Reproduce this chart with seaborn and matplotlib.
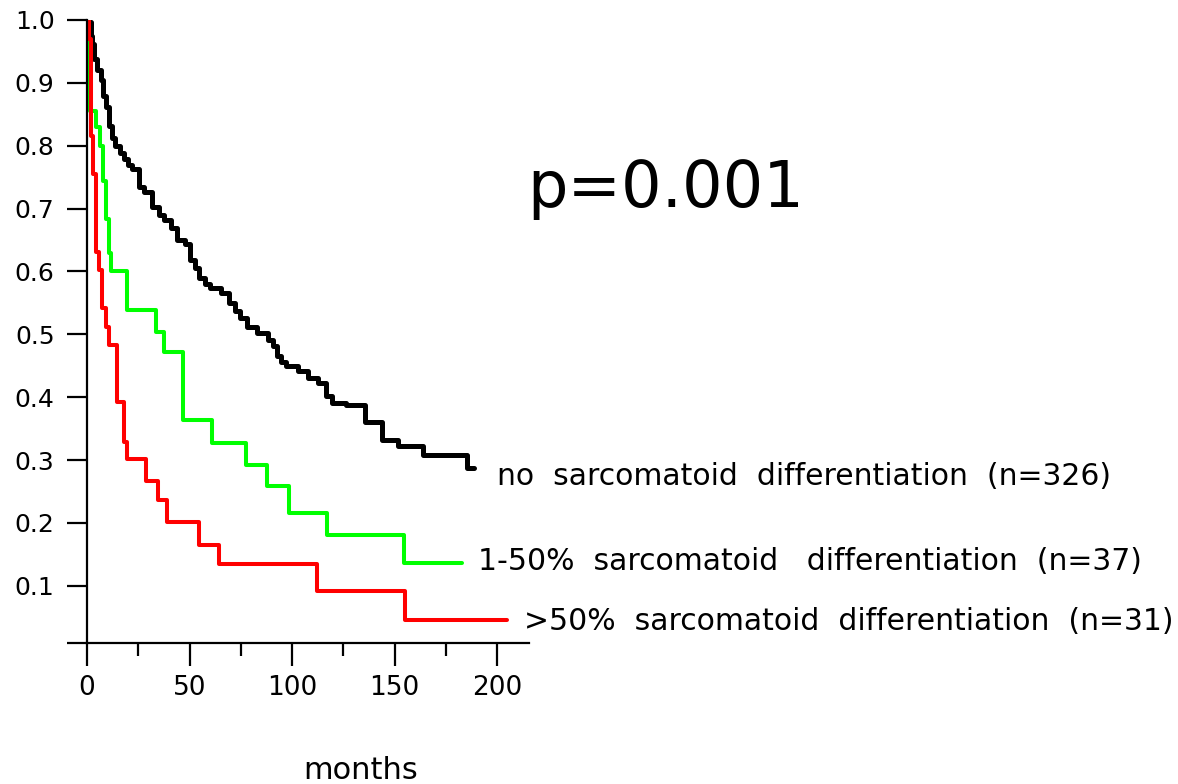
import numpy as np
import pandas as pd
import matplotlib
matplotlib.use("Agg")
import matplotlib.pyplot as plt
import seaborn as sns

# Kaplan-Meier steps: (months of drop, survival after drop)
NONE_T = [0.5, 1.8, 2.4, 3.4, 4.7, 6.6, 8.0, 9.3, 10.5, 12.0, 13.4, 16.1, 18.0,
          20.0, 22.0, 25.1, 27.8, 31.5, 34.9, 37.6, 41.0, 43.9, 47.8, 50.2,
          52.7, 54.6, 57.6, 60.0, 65.4, 69.3, 72.2, 74.6, 77.9, 82.8, 88.3,
          90.7, 92.7, 94.6, 97.1, 102.9, 107.8, 112.7, 116.6, 119.5, 126.3,
          135.6, 143.9, 151.7, 163.9, 185.4]
NONE_S = [0.997, 0.975, 0.962, 0.938, 0.920, 0.905, 0.879, 0.862, 0.831, 0.812,
          0.800, 0.788, 0.779, 0.770, 0.763, 0.734, 0.726, 0.703, 0.690, 0.682,
          0.669, 0.650, 0.644, 0.618, 0.605, 0.590, 0.580, 0.574, 0.566, 0.550,
          0.537, 0.526, 0.512, 0.502, 0.491, 0.481, 0.465, 0.456, 0.450, 0.442,
          0.430, 0.423, 0.402, 0.391, 0.388, 0.360, 0.332, 0.322, 0.308, 0.287]
NONE_END = 188.8

LOW_T = [0.2, 1.5, 4.6, 6.4, 7.8, 9.2, 10.7, 11.9, 19.7, 33.5, 37.6, 47.0,
         60.8, 77.4, 87.9, 98.7, 116.9, 154.8]
LOW_S = [0.892, 0.856, 0.829, 0.800, 0.744, 0.684, 0.629, 0.600, 0.539, 0.504,
         0.472, 0.364, 0.327, 0.292, 0.258, 0.215, 0.181, 0.136]
LOW_END = 182.8

HIGH_T = [0.8, 1.8, 3.1, 4.4, 5.9, 7.5, 9.1, 10.7, 14.8, 18.0, 19.7, 28.6,
          34.6, 39.2, 54.6, 64.4, 112.0, 155.0]
HIGH_S = [0.970, 0.816, 0.755, 0.631, 0.602, 0.542, 0.512, 0.483, 0.393, 0.329,
          0.301, 0.266, 0.236, 0.202, 0.165, 0.135, 0.091, 0.045]
HIGH_END = 205.0

LABELS = ["no  sarcomatoid  differentiation  (n=326)",
          "1-50%  sarcomatoid   differentiation  (n=37)",
          ">50%  sarcomatoid  differentiation  (n=31)"]
COLORS = ["black", "#00ff00", "#ff0000"]
WIDTHS = [3.6, 2.9, 2.9]

X_TICKS = [0, 50, 100, 150, 200]
X_MINOR = [25, 75, 125, 175]
Y_TICKS = [0.1, 0.2, 0.3, 0.4, 0.5, 0.6, 0.7, 0.8, 0.9, 1.0]
Y_BOTTOM = 0.0085


def km_frame(times, surv, end, name):
    t = [0.0] + list(times) + [end]
    s = [1.0] + list(surv) + [surv[-1]]
    return pd.DataFrame({"months": t, "survival": s, "group": name})


sns.set_style("ticks")
plt.rcParams["font.family"] = ["DejaVu Sans"]
plt.rcParams["text.color"] = "black"
plt.rcParams["xtick.color"] = "black"
plt.rcParams["ytick.color"] = "black"
plt.rcParams["axes.labelcolor"] = "black"

fig = plt.figure(figsize=(11.78, 7.84), dpi=100)
ax = fig.add_axes([0.0739, 0.1795, 0.3752, 0.7950])

frames = [km_frame(NONE_T, NONE_S, NONE_END, LABELS[0]),
          km_frame(LOW_T, LOW_S, LOW_END, LABELS[1]),
          km_frame(HIGH_T, HIGH_S, HIGH_END, LABELS[2])]
for df, c, lw in zip(frames, COLORS, WIDTHS):
    sns.lineplot(data=df, x="months", y="survival", drawstyle="steps-post",
                 estimator=None, color=c, linewidth=lw, ax=ax, legend=False)

ax.set_xlim(0, 215.6)
ax.set_ylim(Y_BOTTOM, 1.0)
for side in ["top", "right"]:
    ax.spines[side].set_visible(False)
for side in ["left", "bottom"]:
    ax.spines[side].set_linewidth(1.6)
    ax.spines[side].set_color("black")

ax.set_xticks(X_TICKS)
ax.set_xticks(X_MINOR, minor=True)
ax.set_xticklabels([str(v) for v in X_TICKS])
ax.set_yticks([Y_BOTTOM] + Y_TICKS)
ax.set_yticklabels([""] + [f"{v:.1f}" for v in Y_TICKS])
ax.tick_params(axis="x", which="major", direction="out", length=16.5, width=1.6,
               labelsize=19, pad=6, bottom=True)
ax.tick_params(axis="x", which="minor", direction="out", length=9.4, width=1.6,
               bottom=True)
ax.tick_params(axis="y", direction="out", length=14.4, width=1.6,
               labelsize=18, pad=9, left=True)

ax.set_ylabel("")
ax.set_xlabel("months", fontsize=22, va="baseline")
ax.xaxis.set_label_coords(0.62, -0.2177)

fig.text(0.4474, 0.736, "p=0.001", fontsize=46, va="baseline")
fig.text(497 / 1178, 1 - 485 / 784, LABELS[0], fontsize=21.5, va="baseline")
fig.text(478 / 1178, 1 - 570 / 784, LABELS[1], fontsize=21.5, va="baseline")
fig.text(524 / 1178, 1 - 630 / 784, LABELS[2], fontsize=21.5, va="baseline")

fig.savefig("out.png", dpi=100)
